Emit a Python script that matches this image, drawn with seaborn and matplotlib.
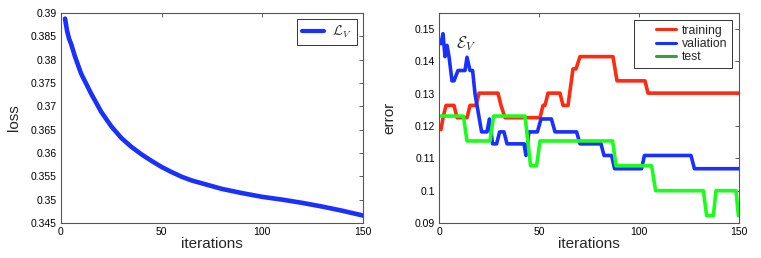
import numpy as np
import pandas as pd
import matplotlib
matplotlib.use('agg')
import matplotlib.pyplot as plt
import seaborn as sns
from matplotlib.ticker import FuncFormatter
from matplotlib.lines import Line2D
from matplotlib.legend_handler import HandlerLine2D

# left panel: validation loss
loss_iter = [2, 3, 4, 5, 7, 10, 15, 20, 25, 30, 35, 40, 45, 50, 55, 60, 65, 70, 75, 80, 90, 100,
             110, 120, 130, 140, 150]
loss_val = [0.3888, 0.3862, 0.3845, 0.3834, 0.3806, 0.3770, 0.3727, 0.3688, 0.3657, 0.3632, 0.3613,
            0.3597, 0.3583, 0.3570, 0.3559, 0.3549, 0.3541, 0.3535, 0.3529, 0.3523, 0.3514, 0.3506,
            0.3500, 0.3493, 0.3485, 0.3476, 0.3466]

# right panel: error curves (corner points of the step lines)
train_iter = [1, 2, 3.5, 7.5, 9, 14, 15.5, 18.5, 20, 29.5, 31, 33, 50.5, 52, 53, 54.5, 60.5, 62, 64.5,
              67, 68.5, 70.5, 87, 89, 103, 104.5, 150]
train_err = [0.1189, 0.1226, 0.1264, 0.1264, 0.1226, 0.1226, 0.1264, 0.1264, 0.1302, 0.1302, 0.1264,
             0.1226, 0.1226, 0.1264, 0.1264, 0.1302, 0.1302, 0.1264, 0.1264, 0.1377, 0.1377, 0.1415,
             0.1415, 0.1340, 0.1340, 0.1302, 0.1302]

val_iter = [1, 2, 3, 4, 5, 6.5, 7.5, 9.5, 13, 14, 15.5, 16.8, 18, 21.3, 24, 25.2, 26.8, 28.8, 30.3,
            32.5, 34, 42.5, 43.5, 45, 49.2, 51, 56.2, 58, 68.8, 70.5, 81, 82.5, 86.3, 87.8, 101.3,
            102.7, 126, 127.7, 150]
val_err = [0.1455, 0.1486, 0.1415, 0.1450, 0.1415, 0.1340, 0.1340, 0.1372, 0.1372, 0.1413, 0.1372,
           0.1372, 0.1300, 0.1182, 0.1182, 0.1222, 0.1145, 0.1145, 0.1182, 0.1182, 0.1145, 0.1145,
           0.1109, 0.1182, 0.1182, 0.1222, 0.1222, 0.1182, 0.1182, 0.1145, 0.1145, 0.1109, 0.1109,
           0.1068, 0.1068, 0.1109, 0.1109, 0.1068, 0.1068]

test_iter = [1, 12.2, 14, 25.5, 27.3, 43, 45.8, 48.8, 50.5, 86.8, 88.5, 106.3, 108.3, 132.2, 133.8,
             137.2, 138.5, 148.5, 149.7]
test_err = [0.1231, 0.1231, 0.1154, 0.1154, 0.1231, 0.1231, 0.1077, 0.1077, 0.1154, 0.1154, 0.1077,
            0.1077, 0.1000, 0.1000, 0.0923, 0.0923, 0.1000, 0.1000, 0.0923]

series_names = ['training', 'valiation', 'test']
line_colors = {'training': '#ff2a12', 'valiation': '#1a30ff', 'test': '#1aff1a'}
legend_colors = {'training': '#ff2a12', 'valiation': '#1a30ff', 'test': '#38a038'}

sns.set_theme(style='white')
plt.rcParams['font.family'] = ['Liberation Sans', 'DejaVu Sans']
plt.rcParams['mathtext.fontset'] = 'cm'

err_df = pd.concat([
    pd.DataFrame({'iterations': train_iter, 'error': train_err, 'set': 'training'}),
    pd.DataFrame({'iterations': val_iter, 'error': val_err, 'set': 'valiation'}),
    pd.DataFrame({'iterations': test_iter, 'error': test_err, 'set': 'test'}),
], ignore_index=True)
loss_df = pd.DataFrame({'iterations': loss_iter, 'loss': loss_val})

fig = plt.figure(figsize=(7.61, 2.58), dpi=100)
ax1 = fig.add_axes([61 / 761, 35 / 258, 302 / 761, 210 / 258])
ax2 = fig.add_axes([439 / 761, 35 / 258, 300 / 761, 210 / 258])

sns.lineplot(data=loss_df, x='iterations', y='loss', ax=ax1, color='#1a30ff', linewidth=3.3,
             estimator=None)
sns.lineplot(data=err_df, x='iterations', y='error', hue='set', hue_order=series_names,
             palette=line_colors, ax=ax2, linewidth=2.6, estimator=None, legend=False)

fmt = FuncFormatter(lambda v, p: '%g' % round(v, 4))
for ax in (ax1, ax2):
    ax.set_xlim(0, 150)
    ax.set_xticks([0, 50, 100, 150])
    ax.yaxis.set_major_formatter(fmt)
    ax.tick_params(direction='in', top=True, right=True, length=3, width=0.6,
                   labelsize=7.5, colors='#444444', labelcolor='black', pad=3)
    for s in ax.spines.values():
        s.set_color('#555555')
        s.set_linewidth(0.8)
    ax.set_xlabel('iterations', fontsize=11, labelpad=0)

ax1.set_ylim(0.345, 0.39)
ax1.set_yticks(np.arange(0.345, 0.3901, 0.005))
ax1.set_ylabel('loss', fontsize=11, labelpad=7)

ax2.set_ylim(0.09, 0.155)
ax2.set_yticks(np.arange(0.09, 0.1501, 0.01))
ax2.set_ylabel('error', fontsize=11, labelpad=13)

leg1 = ax1.legend([Line2D([], [], color='#1a30ff', lw=3)], [r'$\mathcal{L}_V$'], loc='upper right',
                  fontsize=10, handlelength=1.6, handletextpad=0.6, borderpad=0.35,
                  borderaxespad=0.45, fancybox=False, framealpha=1)
leg1.get_frame().set_edgecolor('#333333')
leg1.get_frame().set_linewidth(0.7)

handles = [Line2D([], [], color=legend_colors[n], lw=2.2) for n in series_names]
leg2 = ax2.legend(handles, series_names, loc='upper right', fontsize=8.8, handlelength=3.0,
                  handletextpad=0.5, borderpad=0.4, labelspacing=0.1, borderaxespad=0.55,
                  fancybox=False, framealpha=1,
                  handler_map={Line2D: HandlerLine2D(xpad=1.35)})
leg2.get_frame().set_edgecolor('#333333')
leg2.get_frame().set_linewidth(0.7)

ax2.text(8.5, 0.1455, r'$\mathcal{E}_V$', fontsize=12, va='center', ha='left')

plt.savefig('out.png', dpi=100)
plt.close(fig)
